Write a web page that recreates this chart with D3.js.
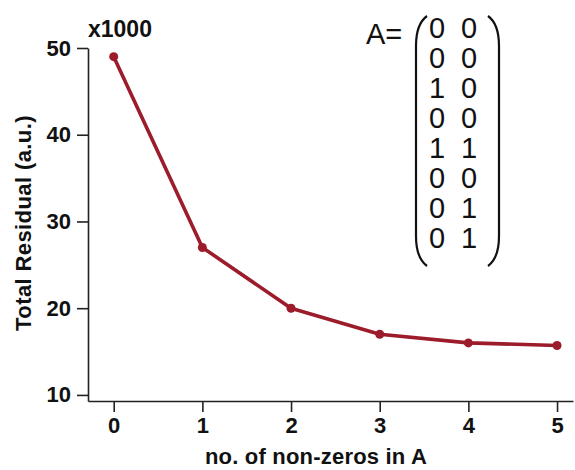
<!DOCTYPE html>
<html>
<head>
<meta charset="utf-8">
<script src="https://cdn.jsdelivr.net/npm/d3@7"></script>
<style>
  html, body { margin: 0; padding: 0; background: #fff; }
  svg { display: block; }
  text { font-family: "Liberation Sans", Arial, Helvetica, sans-serif; }
</style>
</head>
<body>
<svg id="chart" width="575" height="470"></svg>
<script>
// Number of non-zero entries in A vs. total residual (in thousands)
const nonZeros = [0, 1, 2, 3, 4, 5];
const residual = [49, 27, 20, 17, 16, 15.7];
const xTicks = [0, 1, 2, 3, 4, 5];
const yTicks = [10, 20, 30, 40, 50];
// Sparsity pattern of A (rows × columns)
const matrixA = [
  [0, 0],
  [0, 0],
  [1, 0],
  [0, 0],
  [1, 1],
  [0, 0],
  [0, 1],
  [0, 1]
];

const lineColor = "#9c1c2b";
const svg = d3.select("#chart");

const x = d3.scaleLinear().domain([-0.29, 5.18]).range([88, 573]);
const y = d3.scaleLinear().domain([9.3, 50]).range([401, 48]);

// y axis
const yAxis = svg.append("g")
  .attr("transform", "translate(88,0)")
  .call(d3.axisLeft(y).tickValues(yTicks).tickFormat(d3.format("d"))
    .tickSize(11).tickPadding(6).tickSizeOuter(0));
// x axis
const xAxis = svg.append("g")
  .attr("transform", "translate(0,401)")
  .call(d3.axisBottom(x).tickValues(xTicks).tickFormat(d3.format("d"))
    .tickSize(11).tickPadding(5).tickSizeOuter(0));

[yAxis, xAxis].forEach(g => {
  g.select(".domain").attr("stroke", "#222").attr("stroke-width", 1.6);
  g.selectAll(".tick line").attr("stroke", "#222").attr("stroke-width", 1.6);
  g.selectAll(".tick text")
    .attr("fill", "#111")
    .style("font-size", "22px")
    .style("font-weight", "bold");
});

// line
svg.append("path")
  .datum(nonZeros.map((d, i) => [d, residual[i]]))
  .attr("fill", "none")
  .attr("stroke", lineColor)
  .attr("stroke-width", 3.6)
  .attr("stroke-linejoin", "round")
  .attr("d", d3.line().x(d => x(d[0])).y(d => y(d[1])));

svg.selectAll("circle.pt")
  .data(nonZeros)
  .join("circle")
  .attr("class", "pt")
  .attr("cx", d => x(d))
  .attr("cy", (d, i) => y(residual[i]))
  .attr("r", 4.5)
  .attr("fill", lineColor);

// scale factor label
svg.append("text")
  .attr("x", 88).attr("y", 37)
  .style("font-size", "23px").style("font-weight", "bold")
  .attr("fill", "#111")
  .text("x1000");

// axis titles
svg.append("text")
  .attr("transform", "translate(31,223) rotate(-90)")
  .attr("text-anchor", "middle")
  .style("font-size", "22px").style("font-weight", "bold")
  .style("letter-spacing", "0.4px")
  .attr("fill", "#111")
  .text("Total Residual (a.u.)");

svg.append("text")
  .attr("x", 316).attr("y", 464)
  .attr("text-anchor", "middle")
  .style("font-size", "22px").style("font-weight", "bold")
  .style("letter-spacing", "0.2px")
  .attr("fill", "#111")
  .text("no. of non-zeros in A");

// matrix annotation
const mg = svg.append("g");
mg.append("text")
  .attr("x", 366).attr("y", 44)
  .style("font-size", "29px")
  .attr("fill", "#111")
  .text("A=");

const rowY = d3.scaleLinear().domain([0, matrixA.length - 1]).range([38, 248]);
const colX = [437, 469];
matrixA.forEach((row, r) => {
  row.forEach((v, c) => {
    mg.append("text")
      .attr("x", colX[c]).attr("y", rowY(r))
      .attr("text-anchor", "middle")
      .style("font-size", "29px")
      .attr("fill", "#111")
      .text(v);
  });
});

// parentheses
const parTop = 16, parBot = 266;
const lp = d3.path();
lp.moveTo(427, parTop);
lp.quadraticCurveTo(416, parTop + 8, 416, parTop + 30);
lp.lineTo(416, parBot - 30);
lp.quadraticCurveTo(416, parBot - 8, 427, parBot);
mg.append("path").attr("d", lp.toString())
  .attr("fill", "none").attr("stroke", "#111").attr("stroke-width", 2.2);
const rp = d3.path();
rp.moveTo(488, parTop);
rp.quadraticCurveTo(499, parTop + 8, 499, parTop + 30);
rp.lineTo(499, parBot - 30);
rp.quadraticCurveTo(499, parBot - 8, 488, parBot);
mg.append("path").attr("d", rp.toString())
  .attr("fill", "none").attr("stroke", "#111").attr("stroke-width", 2.2);
</script>
</body>
</html>
